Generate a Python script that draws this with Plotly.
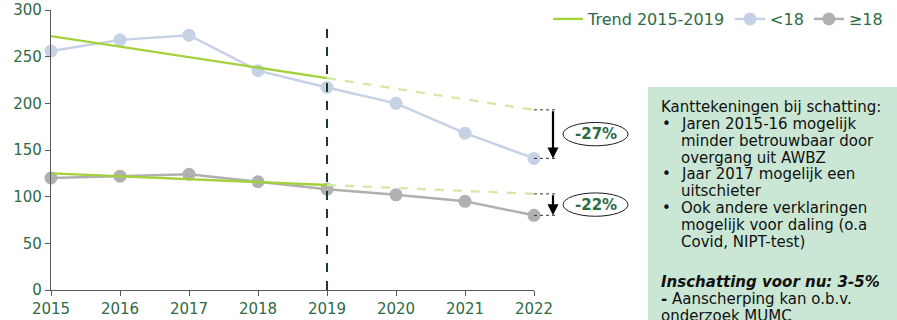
import plotly.graph_objects as go

# ---------------- data ----------------
years = [2015, 2016, 2017, 2018, 2019, 2020, 2021, 2022]
under18 = [256, 268, 273, 235, 217, 200, 168, 141]
over18 = [120, 122, 124, 116, 108, 102, 95, 80]

trend_years = [2015, 2019]
proj_years = [2019, 2022]
trend_under18 = [272, 227]
proj_under18 = [227, 193]
trend_over18 = [125, 112.5]
proj_over18 = [112.5, 103]

y_ticks = [0, 50, 100, 150, 200, 250, 300]
legend_names = ["Trend 2015-2019", "<18", "≥18"]

note_lines = [
    ("Kanttekeningen bij schatting:", False),
    ("Jaren 2015-16 mogelijk", True),
    ("minder betrouwbaar door", False),
    ("overgang uit AWBZ", False),
    ("Jaar 2017 mogelijk een", True),
    ("uitschieter", False),
    ("Ook andere verklaringen", True),
    ("mogelijk voor daling (o.a", False),
    ("Covid, NIPT-test)", False),
]
note_bold = "<b><i>Inschatting voor nu: 3-5%</i></b>"
note_tail = ["<b>-</b> Aanscherping kan o.b.v.", "onderzoek MUMC"]

# ---------------- layout constants ----------------
W, H = 897, 320
L, R, T, B = 51, 534, 10, 290   # plot area in pixels
FONT = "Verdana, DejaVu Sans, sans-serif"
GREEN_TXT = "#2e6b45"
TREND = "#a3d13a"
TREND_LIGHT = "#d3eaa6"
BLUE = "#c5d1e5"
GREY = "#b0b0b0"


def px_x(px):
    return (px - L) / (R - L)


def px_y(py):
    return (B - py) / (B - T)


fig = go.Figure()

fig.add_trace(go.Scatter(x=years, y=under18, mode="lines+markers", name=legend_names[1],
                         line=dict(color=BLUE, width=2.5), marker=dict(size=13, color=BLUE),
                         cliponaxis=False))
fig.add_trace(go.Scatter(x=years, y=over18, mode="lines+markers", name=legend_names[2],
                         line=dict(color=GREY, width=2.5), marker=dict(size=13, color=GREY),
                         cliponaxis=False))
fig.add_trace(go.Scatter(x=trend_years, y=trend_under18, mode="lines", name=legend_names[0],
                         line=dict(color=TREND, width=2.3), legendrank=1))
fig.add_trace(go.Scatter(x=trend_years, y=trend_over18, mode="lines", showlegend=False,
                         line=dict(color=TREND, width=2.3)))
fig.add_trace(go.Scatter(x=proj_years, y=proj_under18, mode="lines", showlegend=False,
                         line=dict(color=TREND_LIGHT, width=2.3, dash="dash")))
fig.add_trace(go.Scatter(x=proj_years, y=proj_over18, mode="lines", showlegend=False,
                         line=dict(color=TREND_LIGHT, width=2.3, dash="dash")))

shapes = []
annotations = []

# vertical dashed line at 2019
shapes.append(dict(type="line", xref="x", yref="y", x0=2019, x1=2019, y0=0, y1=284,
                   line=dict(color="#1d3a28", width=2, dash="dash"), layer="above"))

# difference markers
arrow_x = px_x(553)
for proj, actual in [(proj_under18[-1], under18[-1]), (proj_over18[-1], over18[-1])]:
    for yv in (proj, actual):
        shapes.append(dict(type="line", xref="paper", yref="y", x0=1.0, x1=px_x(557),
                           y0=yv, y1=yv, line=dict(color="#333333", width=1, dash="dot")))
    annotations.append(dict(xref="paper", yref="y", x=arrow_x, y=actual, text="",
                            showarrow=True, axref="pixel", ayref="y", ax=0, ay=proj,
                            arrowhead=2, arrowsize=1, arrowwidth=2.2, arrowcolor="#000000",
                            standoff=0))
    mid = (proj + actual) / 2
    pct = round((actual - proj) / proj * 100)
    shapes.append(dict(type="circle", xref="paper", yref="y", x0=px_x(563), x1=px_x(628),
                       y0=mid - 12.5, y1=mid + 12.5, line=dict(color="#1a1a1a", width=1)))
    annotations.append(dict(xref="paper", yref="y", x=px_x(595.5), y=mid,
                            text=f"<b>{pct}%</b>", showarrow=False,
                            xanchor="center", yanchor="middle",
                            font=dict(family=FONT, size=15, color=GREEN_TXT)))

# notes box
shapes.append(dict(type="rect", xref="paper", yref="paper", x0=px_x(648), x1=px_x(905),
                   y0=px_y(340), y1=px_y(87), fillcolor="#c9e7d4", line=dict(width=0),
                   layer="below"))

NOTE_SIZE = 15
line_y = [107, 124, 141, 157.5, 174, 191, 208, 225, 242]
for (txt, bullet), yy in zip(note_lines, line_y):
    xx = 659 if txt.startswith("Kantt") else 679
    annotations.append(dict(xref="paper", yref="paper", x=px_x(xx), y=px_y(yy), text=txt,
                            showarrow=False, xanchor="left", yanchor="middle",
                            font=dict(family=FONT, size=NOTE_SIZE, color="#111111")))
    if bullet:
        annotations.append(dict(xref="paper", yref="paper", x=px_x(660), y=px_y(yy), text="•",
                                showarrow=False, xanchor="left", yanchor="middle",
                                font=dict(family=FONT, size=NOTE_SIZE, color="#111111")))
annotations.append(dict(xref="paper", yref="paper", x=px_x(659), y=px_y(282), text=note_bold,
                        showarrow=False, xanchor="left", yanchor="middle",
                        font=dict(family=FONT, size=NOTE_SIZE, color="#111111")))
for txt, yy in zip(note_tail, [299, 316]):
    annotations.append(dict(xref="paper", yref="paper", x=px_x(659), y=px_y(yy), text=txt,
                            showarrow=False, xanchor="left", yanchor="middle",
                            font=dict(family=FONT, size=NOTE_SIZE, color="#111111")))

fig.update_layout(
    width=W, height=H,
    margin=dict(l=L, r=W - R, t=T, b=H - B, pad=0, autoexpand=False),
    paper_bgcolor="white", plot_bgcolor="white",
    font=dict(family=FONT, size=15, color=GREEN_TXT),
    shapes=shapes, annotations=annotations,
    legend=dict(orientation="h", x=px_x(548), y=px_y(2), xanchor="left", yanchor="top",
                font=dict(family=FONT, size=16, color=GREEN_TXT), bgcolor="rgba(0,0,0,0)",
                traceorder="normal"),
    xaxis=dict(range=[2015, 2022], tickmode="array", tickvals=years,
               ticktext=[str(y) for y in years], showgrid=False, zeroline=False,
               showline=True, linecolor="#595959", linewidth=1.3, ticks="outside",
               ticklen=5, tickcolor="#595959", tickfont=dict(size=15, color=GREEN_TXT)),
    yaxis=dict(range=[0, 300], tickmode="array", tickvals=y_ticks, showgrid=False,
               zeroline=False, showline=True, linecolor="#595959", linewidth=1.3,
               ticks="outside", ticklen=5, tickcolor="#595959",
               tickfont=dict(size=15, color=GREEN_TXT)),
)

fig.write_html("out.html")
